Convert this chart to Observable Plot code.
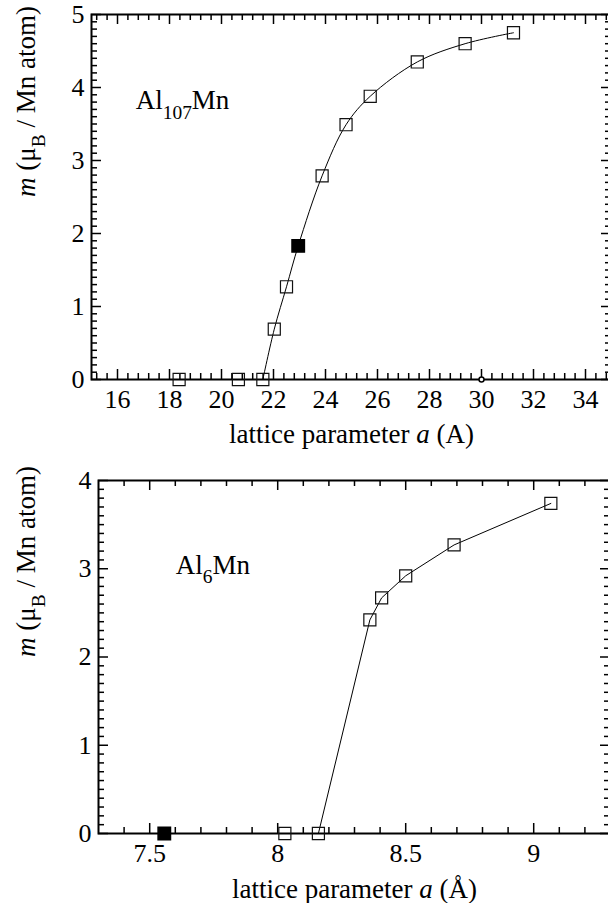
<!DOCTYPE html>
<html><head><meta charset="utf-8">
<script src="https://cdn.jsdelivr.net/npm/d3@7"></script>
<script src="https://cdn.jsdelivr.net/npm/@observablehq/plot@0.6"></script>
<style>
html,body{margin:0;padding:0;background:#fff;overflow:hidden;width:608px;height:903px;}
#chart{width:612px;}
#chart svg{display:block;}
</style></head><body><div id="chart"></div>
<script>
// ---------- Top panel: Al107Mn ----------
const top_open_a   = [18.37, 20.65, 21.59, 22.03, 22.50, 23.87, 24.79, 25.72, 27.53, 29.37, 31.23];
const top_open_m   = [0, 0, 0, 0.69, 1.27, 2.79, 3.49, 3.88, 4.35, 4.60, 4.75];
const top_filled_a = [22.95];
const top_filled_m = [1.83];
const top_line_a   = [21.59, 22.03, 22.50, 22.95, 23.87, 24.79, 25.72, 27.53, 29.37, 31.23];
const top_line_m   = [0, 0.69, 1.27, 1.83, 2.79, 3.49, 3.88, 4.35, 4.60, 4.75];
const top_circle_a = [30];
const top_circle_m = [0];
const top_x_ticks  = [16, 18, 20, 22, 24, 26, 28, 30, 32, 34];
const top_y_ticks  = [0, 1, 2, 3, 4, 5];
const top_label    = "Al107Mn";
const top_label_a  = 16.70, top_label_m = 3.70;

// ---------- Bottom panel: Al6Mn ----------
const bot_open_a   = [8.028, 8.159, 8.36, 8.406, 8.50, 8.689, 9.067];
const bot_open_m   = [0, 0, 2.42, 2.67, 2.92, 3.27, 3.74];
const bot_filled_a = [7.557];
const bot_filled_m = [0];
const bot_line_a   = [8.159, 8.36, 8.406, 8.50, 8.689, 9.067];
const bot_line_m   = [0, 2.42, 2.67, 2.92, 3.27, 3.74];
const bot_x_ticks  = [7.5, 8, 8.5, 9];
const bot_y_ticks  = [0, 1, 2, 3, 4];
const bot_label    = "Al6Mn";
const bot_label_a  = 7.602, bot_label_m = 2.946;

const yTitle = "m (\u03bcB / Mn atom)";
const topXTitle = "lattice parameter a (A)";
const botXTitle = "lattice parameter a (\u00c5)";

const FONT = "Liberation Serif";
const pts = (a, m) => a.map((v, i) => ({a: v, m: m[i]}));

// inward tick marks drawn as short rules, length given in pixels
function tickRules(cfg, xs, ys, len) {
  const W = cfg.width - cfg.marginLeft - cfg.marginRight;
  const H = cfg.height - cfg.marginTop - cfg.marginBottom;
  const [x0, x1] = cfg.xDomain, [y0, y1] = cfg.yDomain;
  const dy = len * (y1 - y0) / H, dx = len * (x1 - x0) / W;
  const s = {stroke: "black", strokeWidth: 1.5};
  return [
    Plot.ruleX(xs, {x: d => d, y1: () => y0, y2: () => y0 + dy, ...s}),
    Plot.ruleX(xs, {x: d => d, y1: () => y1 - dy, y2: () => y1, ...s}),
    Plot.ruleY(ys, {y: d => d, x1: () => x0, x2: () => x0 + dx, ...s}),
    Plot.ruleY(ys, {y: d => d, x1: () => x1 - dx, x2: () => x1, ...s})
  ];
}

function panel(cfg) {
  return Plot.plot({
    width: cfg.width, height: cfg.height,
    marginLeft: cfg.marginLeft, marginRight: cfg.marginRight,
    marginTop: cfg.marginTop, marginBottom: cfg.marginBottom,
    style: {fontFamily: FONT, fontSize: "26px", background: "white", overflow: "visible"},
    x: {domain: cfg.xDomain},
    y: {domain: cfg.yDomain},
    marks: [
      ...tickRules(cfg, cfg.xMinor, cfg.yMinor, 6),
      ...tickRules(cfg, cfg.xTicks, cfg.yTicks, 10),
      Plot.frame({stroke: "black", strokeWidth: 2}),
      Plot.axisX(cfg.xTicks, {anchor: "bottom", tickSize: 0, tickPadding: 10.5, fontSize: 26, label: null, tickFormat: d => String(d)}),
      Plot.axisY(cfg.yTicks, {anchor: "left", tickSize: 0, tickPadding: 7, fontSize: 26, label: null, tickFormat: d => String(d)}),
      Plot.line(cfg.line, {x: "a", y: "m", stroke: "black", strokeWidth: 1, curve: cfg.curve}),
      ...cfg.extra,
      Plot.dot(cfg.open, {x: "a", y: "m", symbol: "square", r: 6.8, stroke: "#111", strokeWidth: 1.2, fill: "none"}),
      Plot.dot(cfg.filled, {x: "a", y: "m", symbol: "square", r: 7, fill: "black", stroke: "black"}),
      Plot.text([cfg.label], {x: () => cfg.labelA, y: () => cfg.labelM, text: d => d, textAnchor: "start", lineAnchor: "bottom", fontSize: 27}),
      Plot.text([cfg.xTitle], {text: d => d, frameAnchor: "bottom", lineAnchor: "bottom", dy: cfg.xTitleDy, fontSize: 27}),
      Plot.text([yTitle], {text: d => d, frameAnchor: "left", rotate: -90, lineAnchor: "middle", dx: cfg.yTitleDx, fontSize: 27})
    ]
  });
}

function rich(svg, key, parts, fs) {
  d3.select(svg).selectAll("text").filter(function () { return this.textContent === key; }).each(function () {
    const t = d3.select(this);
    t.text(null);
    let shifted = 0;
    const sh = 0.36 * fs;
    parts.forEach(p => {
      const ts = t.append("tspan").text(p.t);
      if (p.it) ts.attr("font-style", "italic");
      const want = p.sub ? sh : 0;
      if (want !== shifted) { ts.attr("dy", want - shifted); shifted = want; }
      if (p.sub) ts.attr("font-size", fs * 0.72);
    });
  });
}

const topCfg = {
  width: 612, height: 460, marginLeft: 91, marginRight: 1, marginTop: 14, marginBottom: 81,
  xDomain: [15, 35], yDomain: [0, 5],
  xTicks: top_x_ticks, yTicks: top_y_ticks,
  xMinor: d3.range(38, 88).filter(k => k % 5).map(k => k * 0.4),
  yMinor: d3.range(1, 50).filter(k => k % 10).map(k => k / 10),
  line: pts(top_line_a, top_line_m), curve: "catmull-rom",
  open: pts(top_open_a, top_open_m),
  filled: pts(top_filled_a, top_filled_m),
  extra: [Plot.dot(pts(top_circle_a, top_circle_m), {x: "a", y: "m", r: 2.5, stroke: "black", strokeWidth: 1.5, fill: "white"})],
  label: top_label, labelA: top_label_a, labelM: top_label_m,
  xTitle: topXTitle, xTitleDy: 63, yTitleDx: -65
};
const botCfg = {
  width: 612, height: 443, marginLeft: 98, marginRight: 2, marginTop: 20, marginBottom: 70,
  xDomain: [7.3, 9.3], yDomain: [0, 4],
  xTicks: bot_x_ticks, yTicks: bot_y_ticks,
  xMinor: d3.range(74, 93).filter(k => k % 5).map(k => k / 10),
  yMinor: d3.range(1, 40).filter(k => k % 10).map(k => k / 10),
  line: pts(bot_line_a, bot_line_m), curve: "linear",
  open: pts(bot_open_a, bot_open_m),
  filled: pts(bot_filled_a, bot_filled_m),
  extra: [],
  label: bot_label, labelA: bot_label_a, labelM: bot_label_m,
  xTitle: botXTitle, xTitleDy: 64, yTitleDx: -72
};
const topSvg = panel(topCfg);
const botSvg = panel(botCfg);

const yParts = [{t: "m", it: true}, {t: " (\u03bc"}, {t: "B", sub: true}, {t: " / Mn atom)"}];
rich(topSvg, top_label, [{t: "Al"}, {t: "107", sub: true}, {t: "Mn"}], 27);
rich(botSvg, bot_label, [{t: "Al"}, {t: "6", sub: true}, {t: "Mn"}], 27);
rich(topSvg, yTitle, yParts, 27);
rich(botSvg, yTitle, yParts, 27);
rich(topSvg, topXTitle, [{t: "lattice parameter "}, {t: "a", it: true}, {t: " (A)"}], 27);
rich(botSvg, botXTitle, [{t: "lattice parameter "}, {t: "a", it: true}, {t: " (\u00c5)"}], 27);

// merge both panels into one SVG document
const total = topCfg.height + botCfg.height;
topSvg.setAttribute("height", total);
topSvg.setAttribute("viewBox", `0 0 ${topCfg.width} ${total}`);
const g = document.createElementNS("http://www.w3.org/2000/svg", "g");
g.setAttribute("transform", `translate(0,${topCfg.height})`);
for (const child of Array.from(botSvg.childNodes)) {
  if (child.nodeName.toLowerCase() !== "style") g.appendChild(child);
}
topSvg.appendChild(g);
document.getElementById("chart").append(topSvg);
</script></body></html>
